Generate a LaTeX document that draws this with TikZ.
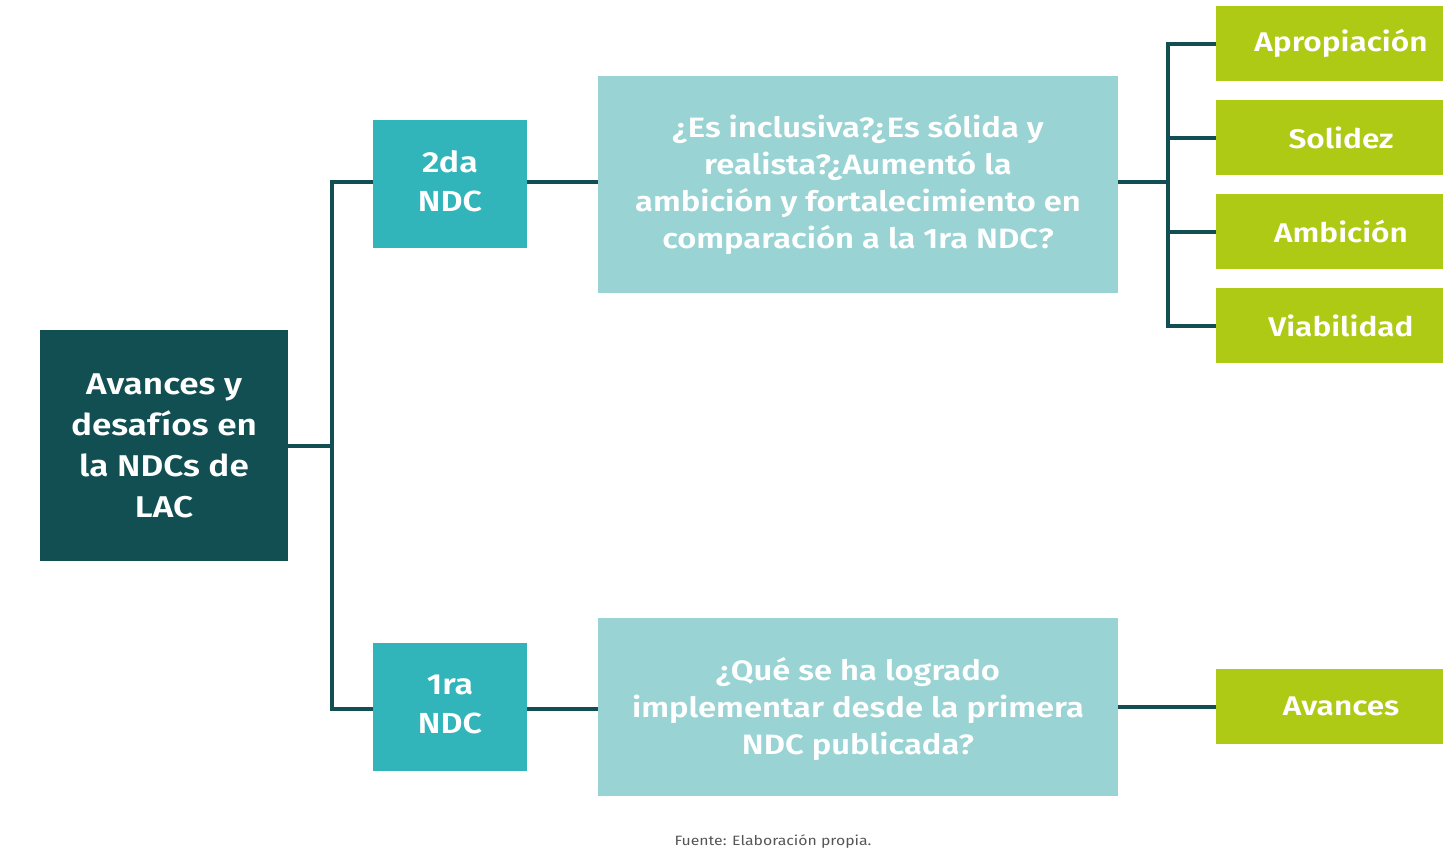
\documentclass[tikz,border=0pt]{standalone}
\usepackage{fontspec}
\setmainfont{Fira Sans}[FakeStretch=1.17, BoldFont={Fira Sans SemiBold}]
\definecolor{dark}{HTML}{124F52}
\definecolor{mid}{HTML}{31B5BA}
\definecolor{light}{HTML}{99D3D4}
\definecolor{lime}{HTML}{AFCA15}
\definecolor{gtext}{HTML}{555555}
\tikzset{
  box/.style={draw=none, inner sep=0pt, align=center, text=white, font=\bfseries},
  mainbox/.style={box, fill=dark, minimum width=248pt, minimum height=231pt, font=\bfseries\fontsize{30}{41}\selectfont},
  ndcbox/.style={box, fill=mid, minimum width=154pt, minimum height=128pt, font=\bfseries\fontsize{29}{39}\selectfont},
  qbox/.style={box, fill=light, minimum width=520pt, font=\bfseries\fontsize{28}{37}\selectfont},
  gbox/.style={box, fill=lime, minimum width=227pt, minimum height=75pt, font=\bfseries\fontsize{27}{33}\selectfont},
  gtxt/.style={inner sep=0pt, text=white, font=\bfseries\fontsize{27}{33}\selectfont},
  conn/.style={draw=dark, line width=4pt}
}
\begin{document}
\begin{tikzpicture}[x=1pt,y=-1pt]
\useasboundingbox (0,0) rectangle (1443,852);
\node[mainbox] (main) at (164,445.5) {Avances y\\desafíos en\\la NDCs de\\LAC};
\node[ndcbox] (n2) at (450,184) {};
\node[box, font=\bfseries\fontsize{29}{39}\selectfont] (n2t) at (450,181) {2da\\NDC};
\node[ndcbox] (n1) at (450,707) {};
\node[box, font=\bfseries\fontsize{29}{39}\selectfont] (n1t) at (450,704) {1ra\\NDC};
\node[qbox, minimum height=217pt] (q2) at (858,184.5) {¿Es inclusiva?¿Es sólida y\\realista?¿Aumentó la\\ambición y fortalecimiento en\\comparación a la 1ra NDC?};
\node[qbox, minimum height=178pt] (q1) at (858,707) {};
\node[box, font=\bfseries\fontsize{28}{37}\selectfont] (q1t) at (858,709) {¿Qué se ha logrado\\implementar desde la primera\\NDC publicada?};
\node[gbox] (g1) at (1329.5,43.5) {};
\node[gbox] (g2) at (1329.5,137.5) {};
\node[gbox] (g3) at (1329.5,231.5) {};
\node[gbox] (g4) at (1329.5,325.5) {};
\node[gbox] (g5) at (1329.5,706.5) {};
\node[gtxt] (t1) at (1341,43.5) {Apropiación};
\node[gtxt] (t2) at (1341,137.5) {Solidez};
\node[gtxt] (t3) at (1341,231.5) {Ambición};
\node[gtxt] (t4) at (1341,325.5) {Viabilidad};
\node[gtxt] (t5) at (1341,706.5) {Avances};
\node[font=\fontsize{13.5}{15}\selectfont, text=gtext] (src) at (773,842) {Fuente: Elaboración propia.};
\coordinate (b1) at (332,445.5);
\coordinate (b2) at (1168,182);
\draw[conn] (main.east |- b1) -- (b1);
\draw[conn] (n2.west |- 0,182) -| (332,709) -- (n1.west |- 0,709);
\draw[conn] (n2.east |- 0,182) -- (q2.west |- 0,182);
\draw[conn] (n1.east |- 0,709) -- (q1.west |- 0,709);
\draw[conn] (q2.east |- b2) -- (b2);
\draw[conn] (g1.west) -| (1168,0 |- g4.west) -- (g4.west);
\draw[conn] (1168,0 |- g2.west) -- (g2.west);
\draw[conn] (1168,0 |- g3.west) -- (g3.west);
\draw[conn] (q1.east |- g5.west) -- (g5.west);
\end{tikzpicture}
\end{document}
